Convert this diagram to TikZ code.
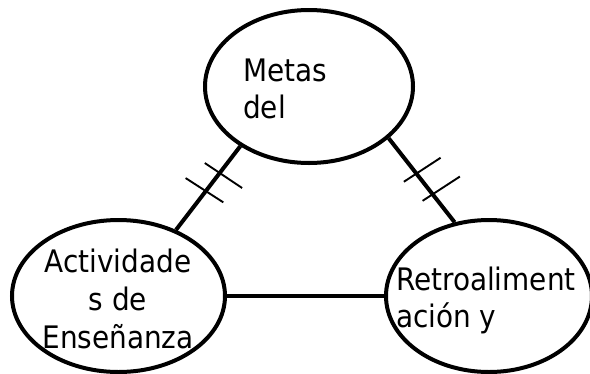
\documentclass[tikz,border=0pt]{standalone}
\usepackage{fontspec}
\setmainfont{DejaVu Sans Condensed}
\usetikzlibrary{shapes.geometric,calc}
\begin{document}
\begin{tikzpicture}[x=1pt,y=-1pt,
  bubble/.style={draw,ellipse,line width=4pt,inner sep=0pt},
  lbl/.style={inner sep=0pt,font=\fontsize{31}{37}\selectfont},
  link/.style={line width=4pt},
  tick/.style={line width=1.9pt}]
\useasboundingbox (0,0) rectangle (590,373);
\node[bubble,minimum width=208pt,minimum height=153pt] (top) at (309,86.5) {};
\node[bubble,minimum width=213pt,minimum height=152pt] (left) at (118.5,296) {};
\node[bubble,minimum width=206pt,minimum height=152pt] (right) at (489,296) {};
% texts
\node[lbl,anchor=base west] (t1) at (243,81.5) {Metas};
\node[lbl,anchor=base west] (t2) at (243,118.5) {del};
\node[lbl,anchor=base] (l1) at (118,272.5) {Actividade};
\node[lbl,anchor=base] (l2) at (118,310.5) {s de};
\node[lbl,anchor=base] (l3) at (118,348) {Enseñanza};
\node[lbl,anchor=base west] (r1) at (396,290) {Retroaliment};
\node[lbl,anchor=base west] (r2) at (396,327.5) {ación y};
% connectors
\draw[link] (left.49) -- (top.221.5)
  coordinate[pos=0.464] (la) coordinate[pos=0.68] (lb);
\draw[link] (top.327) -- (right.115)
  coordinate[pos=0.42] (ra) coordinate[pos=0.666] (rb);
\draw[link] (left.east) -- (right.west);
% ticks
\draw[tick] ($(lb)+(-14.9,-10)$) -- ($(lb)+(22.4,15)$);
\draw[tick] ($(la)+(-20.2,-13)$) -- ($(la)+(17.5,11.3)$);
\draw[tick] ($(ra)+(-12.5,8.2)$) -- ($(ra)+(24.2,-15.8)$);
\draw[tick] ($(rb)+(-10,6.6)$) -- ($(rb)+(27.3,-17.7)$);
\end{tikzpicture}
\end{document}
